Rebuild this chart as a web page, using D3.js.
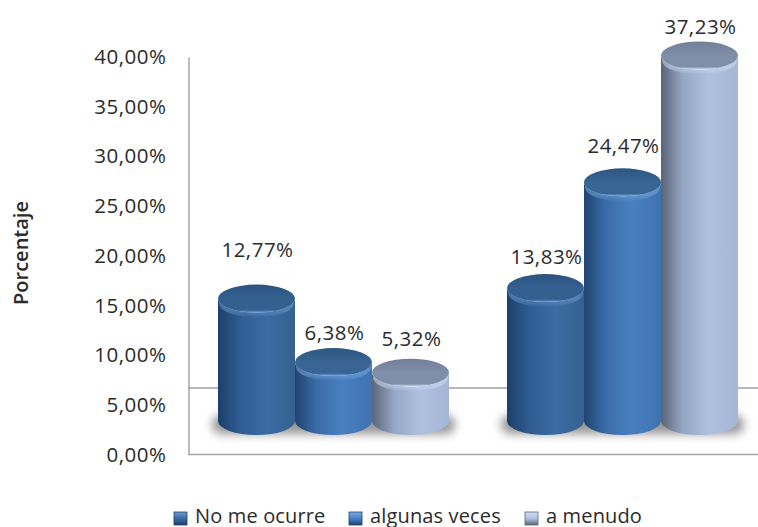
<!DOCTYPE html>
<html><head><meta charset="utf-8">
<script src="https://cdn.jsdelivr.net/npm/d3@7"></script>
<style>html,body{margin:0;padding:0;background:#fff;overflow:hidden}svg{display:block}text{font-family:"Open Sans",sans-serif;fill:#2b2b2b}</style>
</head><body><svg id="c" width="758" height="527"></svg>
<script>
const groups = ["Grupo 1", "Grupo 2"];
const seriesNames = ["No me ocurre", "algunas veces", "a menudo"];
const noMeOcurre = [12.77, 13.83];
const algunasVeces = [6.38, 24.47];
const aMenudo = [5.32, 37.23];
const yTicks = [0, 5, 10, 15, 20, 25, 30, 35, 40];
const yLabel = "Porcentaje";
const seriesValues = [noMeOcurre, algunasVeces, aMenudo];
const labelLift = [[49, 31], [29, 36], [34, 29]];
const palettes = [
  {side:["#1d3f69","#2f5b90","#3b6ba3","#35618f"], top:"#34608f", topEdge:"#2c5380", rim:"#6b9bd0"},
  {side:["#1f436f","#3a6ca8","#4a80c0","#3f73b0"], top:"#386594", topEdge:"#2e5782", rim:"#7aace0"},
  {side:["#5a6477","#95a5c4","#b0c1e0","#a5b6d6"], top:"#7f8ea9", topEdge:"#727f99", rim:"#d3e0f5"}
];
const svg = d3.select("#c");
const defs = svg.append("defs");
const fmt = v => v.toFixed(2).replace(".", ",") + "%";
const y = d3.scaleLinear().domain([0, 40]).range([454.5, 57]);
const x0 = d3.scaleBand().domain(groups).range([218, 738]).paddingInner(58 / 289);
const x1 = d3.scaleBand().domain(seriesNames).range([0, x0.bandwidth()]);
const ry = 14, rise = 29, baseY = y(0) - 33.5;

palettes.forEach((p, i) => {
  const g = defs.append("linearGradient").attr("id", "s" + i);
  [0, .28, .62, 1].forEach((o, k) => g.append("stop").attr("offset", o).attr("stop-color", p.side[k]));
  const t = defs.append("linearGradient").attr("id", "t" + i).attr("x1", 0).attr("x2", 0).attr("y1", 0).attr("y2", 1);
  t.append("stop").attr("offset", 0).attr("stop-color", p.topEdge);
  t.append("stop").attr("offset", .5).attr("stop-color", p.top);
  t.append("stop").attr("offset", .9).attr("stop-color", p.top);
  t.append("stop").attr("offset", 1).attr("stop-color", p.rim);
  const l = defs.append("linearGradient").attr("id", "l" + i).attr("x1", 0).attr("x2", 0).attr("y1", 0).attr("y2", 1);
  l.append("stop").attr("offset", .78).attr("stop-color", p.rim).attr("stop-opacity", .5);
  l.append("stop").attr("offset", 1).attr("stop-color", p.rim).attr("stop-opacity", 0);
});
defs.append("filter").attr("id", "blur").attr("x", "-20%").attr("y", "-80%").attr("width", "140%").attr("height", "260%")
  .append("feGaussianBlur").attr("stdDeviation", 5);

// axes
const axisCol = "#a6a6a6";
const axis = d3.axisLeft(y).tickValues(yTicks).tickFormat(fmt).tickSize(0).tickPadding(22);
const ag = svg.append("g").attr("transform", "translate(188.5,0)").call(axis);
ag.select(".domain").attr("stroke", axisCol).attr("stroke-width", 1.5);
ag.selectAll("text").attr("font-size", 20.5).attr("letter-spacing", .5).attr("fill", "#2b2b2b");
svg.append("line").attr("x1", 188).attr("x2", 758).attr("y1", y(0)).attr("y2", y(0)).attr("stroke", axisCol).attr("stroke-width", 1.5);
svg.append("line").attr("x1", 188).attr("x2", 758).attr("y1", y(0) - 66.5).attr("y2", y(0) - 66.5).attr("stroke", "#a0a0a0").attr("stroke-width", 1.5);

svg.append("text").attr("transform", `translate(28,253) rotate(-90)`).attr("text-anchor", "middle")
  .attr("font-size", 20).attr("font-weight", 600).attr("fill", "#222").text(yLabel);

// shadows
groups.forEach(g => {
  svg.append("rect").attr("x", x0(g) - 6).attr("width", x0.bandwidth() + 12).attr("y", baseY - 6).attr("height", 19).attr("rx", 9)
    .attr("fill", "#6e6e6e").attr("opacity", .72).attr("filter", "url(#blur)");
});

// bars
const rx = x1.bandwidth() / 2;
groups.forEach((g, gi) => {
  seriesNames.forEach((s, si) => {
    const v = seriesValues[si][gi];
    const cx = x0(g) + x1(s) + rx;
    const top = y(v) - rise;
    const bar = svg.append("g");
    bar.append("path").attr("fill", `url(#s${si})`)
      .attr("d", `M${cx - rx},${top}V${baseY}A${rx},${ry} 0 0 0 ${cx + rx},${baseY}V${top}A${rx},${ry} 0 0 1 ${cx - rx},${top}Z`);
    bar.append("ellipse").attr("cx", cx).attr("cy", top + 5).attr("rx", rx - 1).attr("ry", ry).attr("fill", `url(#l${si})`);
    bar.append("ellipse").attr("cx", cx).attr("cy", top).attr("rx", rx).attr("ry", ry).attr("fill", `url(#t${si})`);
    svg.append("text").attr("x", cx + 1).attr("y", top - labelLift[si][gi] + 7).attr("text-anchor", "middle")
      .attr("font-size", 20.5).attr("letter-spacing", .5).text(fmt(v));
  });
});

// legend
const legendX = [174, 349, 525];
seriesNames.forEach((s, i) => {
  const gd = defs.append("linearGradient").attr("id", "lg" + i).attr("x1", 0).attr("x2", 0).attr("y1", 0).attr("y2", 1);
  gd.append("stop").attr("offset", 0).attr("stop-color", palettes[i].rim);
  gd.append("stop").attr("offset", .5).attr("stop-color", palettes[i].side[2]);
  gd.append("stop").attr("offset", 1).attr("stop-color", palettes[i].side[0]);
  svg.append("rect").attr("x", legendX[i]).attr("y", 512).attr("width", 13).attr("height", 13).attr("fill", `url(#lg${i})`).attr("stroke", palettes[i].side[0]).attr("stroke-width", .8);
  svg.append("text").attr("x", legendX[i] + 21).attr("y", 522.5).attr("font-size", 20).attr("font-family", "Lato").attr("letter-spacing", .15).text(s);
});
</script></body></html>
